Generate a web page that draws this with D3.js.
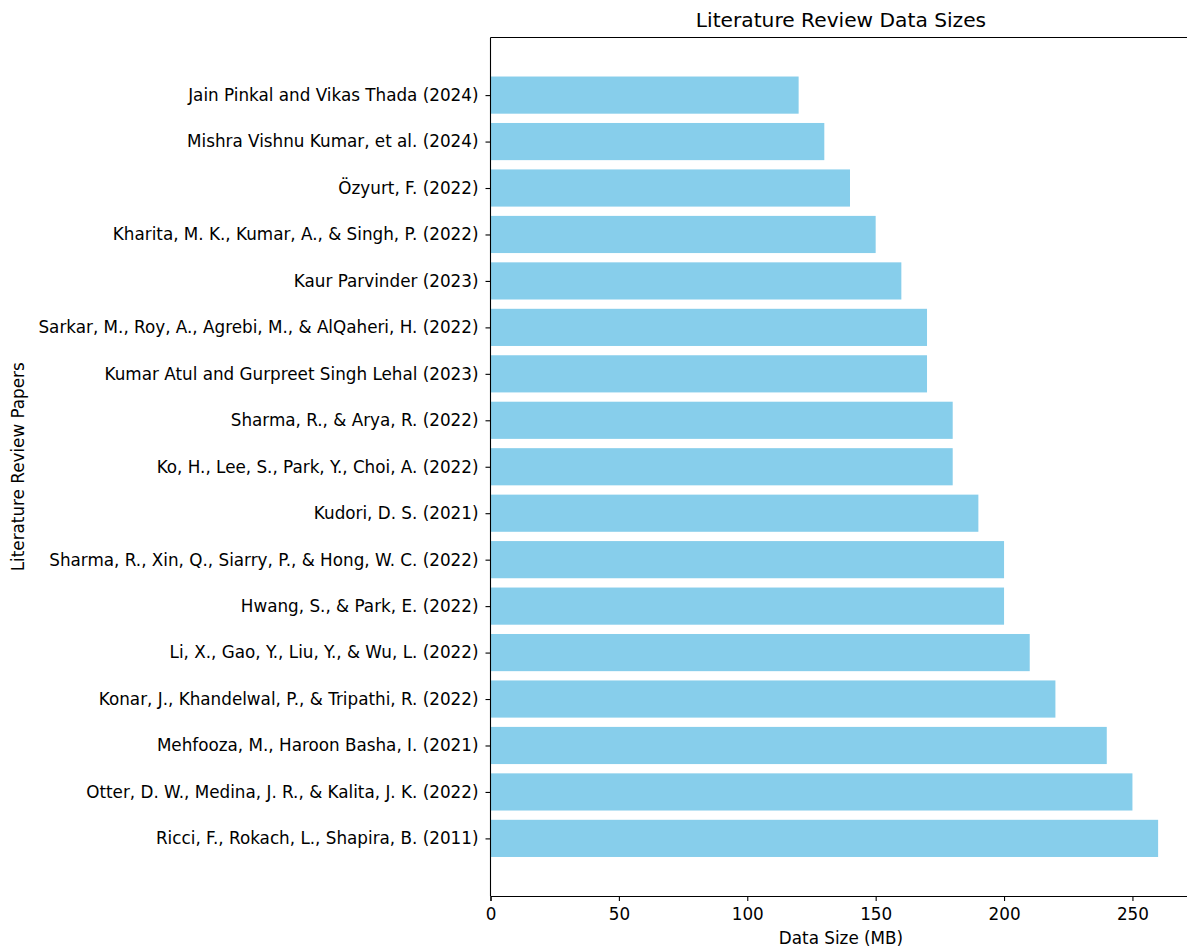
<!DOCTYPE html>
<html>
<head>
<meta charset="utf-8">
<script src="https://cdn.jsdelivr.net/npm/d3@7"></script>
<style>
  html, body { margin: 0; padding: 0; background: #fff; }
  svg { display: block; font-family: "DejaVu Sans", sans-serif; }
</style>
</head>
<body>
<svg id="chart" width="1187" height="948"></svg>
<script>
// Papers, listed bottom to top as they stack on the y axis
const papers = [
  "Ricci, F., Rokach, L., Shapira, B. (2011)",
  "Otter, D. W., Medina, J. R., & Kalita, J. K. (2022)",
  "Mehfooza, M., Haroon Basha, I. (2021)",
  "Konar, J., Khandelwal, P., & Tripathi, R. (2022)",
  "Li, X., Gao, Y., Liu, Y., & Wu, L. (2022)",
  "Hwang, S., & Park, E. (2022)",
  "Sharma, R., Xin, Q., Siarry, P., & Hong, W. C. (2022)",
  "Kudori, D. S. (2021)",
  "Ko, H., Lee, S., Park, Y., Choi, A. (2022)",
  "Sharma, R., & Arya, R. (2022)",
  "Kumar Atul and Gurpreet Singh Lehal (2023)",
  "Sarkar, M., Roy, A., Agrebi, M., & AlQaheri, H. (2022)",
  "Kaur Parvinder (2023)",
  "Kharita, M. K., Kumar, A., & Singh, P. (2022)",
  "Özyurt, F. (2022)",
  "Mishra Vishnu Kumar, et al. (2024)",
  "Jain Pinkal and Vikas Thada (2024)"
];
const dataSizes = [260, 250, 240, 220, 210, 200, 200, 190, 180, 180, 170, 170, 160, 150, 140, 130, 120];
const xTicks = [0, 50, 100, 150, 200, 250];

const chartTitle = "Literature Review Data Sizes";
const xTitle = "Data Size (MB)";
const yTitle = "Literature Review Papers";

(function () {
  const svg = d3.select("#chart");
  const plotLeft = 490.5, plotRight = 1191.5, plotTop = 37.5, plotBottom = 896;
  const fontSize = 16.8, titleSize = 20.2;

  const xMax = d3.max(dataSizes) * 1.05;
  const x = d3.scaleLinear().domain([0, xMax]).range([plotLeft, plotRight]);

  // Categorical positions with 0.8-wide bars and 5% margins
  const n = papers.length;
  const y = d3.scaleLinear().domain([-0.4 - 0.84, n - 1 + 0.4 + 0.84]).range([plotBottom, plotTop]);
  const barH = y(0) - y(0.8);

  svg.append("g").selectAll("rect")
    .data(dataSizes)
    .join("rect")
    .attr("x", x(0))
    .attr("y", (d, i) => y(i + 0.4))
    .attr("width", d => x(d) - x(0))
    .attr("height", barH)
    .attr("fill", "#87ceeb");

  // x axis
  const xAxis = svg.append("g")
    .attr("transform", `translate(0,${plotBottom})`)
    .call(d3.axisBottom(x).tickValues(xTicks).tickSize(5).tickPadding(7).tickFormat(d3.format("d")));
  xAxis.select(".domain").attr("stroke", "#000").attr("stroke-width", 1.1);
  xAxis.selectAll(".tick line").attr("stroke", "#000").attr("stroke-width", 1.1);
  xAxis.selectAll(".tick text").attr("font-size", fontSize).attr("fill", "#000")
    .attr("font-family", "DejaVu Sans, sans-serif");

  // y axis
  const yAxis = svg.append("g")
    .attr("transform", `translate(${plotLeft},0)`)
    .call(d3.axisLeft(y).tickValues(d3.range(n)).tickSize(5).tickPadding(7).tickFormat(i => papers[i]));
  yAxis.select(".domain").remove();
  yAxis.selectAll(".tick line").attr("stroke", "#000").attr("stroke-width", 1.1);
  yAxis.selectAll(".tick text").attr("font-size", fontSize).attr("fill", "#000")
    .attr("font-family", "DejaVu Sans, sans-serif");

  // spines: left and top (the right edge runs past the canvas)
  svg.append("line").attr("x1", plotLeft).attr("x2", plotLeft).attr("y1", plotTop).attr("y2", plotBottom)
    .attr("stroke", "#000").attr("stroke-width", 1.1);
  svg.append("line").attr("x1", plotLeft).attr("x2", plotRight).attr("y1", plotTop).attr("y2", plotTop)
    .attr("stroke", "#000").attr("stroke-width", 1.1);

  // titles
  svg.append("text").attr("x", (plotLeft + plotRight) / 2).attr("y", 27)
    .attr("text-anchor", "middle").attr("font-size", titleSize).attr("fill", "#000").text(chartTitle);
  svg.append("text").attr("x", (plotLeft + plotRight) / 2).attr("y", 944)
    .attr("text-anchor", "middle").attr("font-size", fontSize).attr("fill", "#000").text(xTitle);
  svg.append("text").attr("transform", `translate(23.5,${(plotTop + plotBottom) / 2}) rotate(-90)`)
    .attr("text-anchor", "middle").attr("font-size", fontSize).attr("fill", "#000").text(yTitle);
})();
</script>
</body>
</html>
